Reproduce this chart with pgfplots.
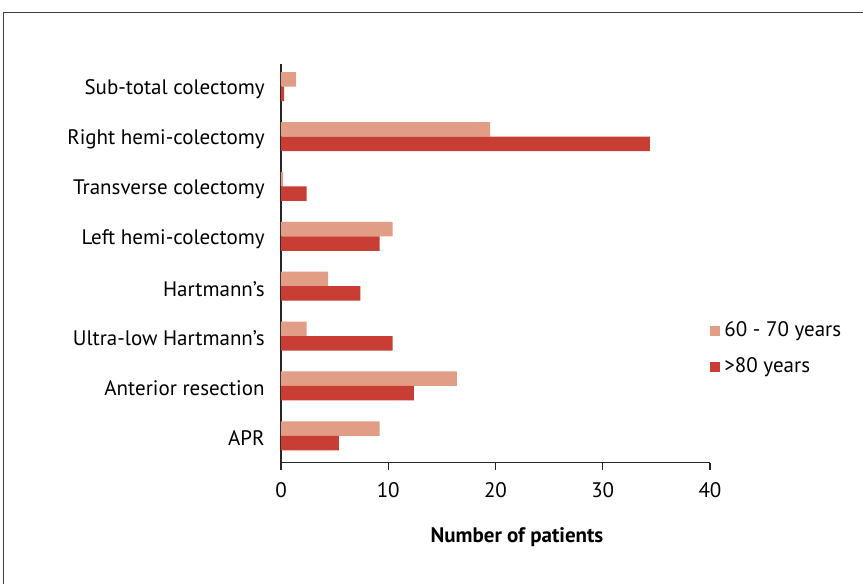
\documentclass[border=0pt]{standalone}
\usepackage{pgfplots}
\pgfplotsset{compat=1.18}
\usepackage{fontspec}
\setmainfont{PT Sans}
\definecolor{cLight}{HTML}{E19D85}
\definecolor{cDark}{HTML}{C93E34}
\begin{document}
\fontsize{10.5}{12.6}\selectfont
\begin{tikzpicture}
\useasboundingbox (0,0) rectangle (431.5pt,292pt);
\draw[black!75, line width=0.6pt] (1.85pt,-1pt) -- (1.85pt,285.65pt) -- (433pt,285.65pt);
\begin{axis}[
  at={(140.5pt,60.65pt)}, anchor=south west,
  scale only axis, width=214.5pt, height=199.5pt,
  xbar, bar width=7.25pt,
  xmin=0, xmax=40, ymin=-0.5, ymax=7.5,
  axis x line*=bottom, axis y line*=left,
  axis line style={line width=0.6pt, black!85},
  xtick={0,10,20,30,40},
  tick align=outside, major tick length=3.5pt,
  x tick style={line width=0.6pt, black!85},
  ytick={0,1,2,3,4,5,6,7},
  yticklabels={APR, Anterior resection, Ultra-low Hartmann’s, Hartmann’s, Left hemi-colectomy, Transverse colectomy, Right hemi-colectomy, Sub-total colectomy},
  y tick style={draw=none},
  /pgf/number format/assume math mode=true,
  tick label style={font=\fontsize{10.5}{12.6}\selectfont},
  yticklabel style={xshift=-1pt, yshift=-0.3pt},
  xticklabel style={yshift=-2.5pt},
  xlabel={\bfseries Number of patients},
  xlabel style={at={(axis description cs:0.55,0)}, anchor=center, yshift=-37pt, font=\fontsize{10.5}{12.6}\selectfont},
  legend style={at={(axis description cs:1,0.286)}, anchor=west, draw=none, fill=none, inner sep=0pt, row sep=5pt, font=\fontsize{10.5}{12.6}\selectfont, cells={anchor=west}},
  legend image code/.code={\fill[#1,draw=none] (0pt,-2.5pt) rectangle (5pt,2.5pt);},
]
\addplot[fill=cLight, draw=none, bar shift=4.6pt] coordinates {(9.2,0) (16.4,1) (2.4,2) (4.4,3) (10.4,4) (0.2,5) (19.5,6) (1.4,7)};
\addplot[fill=cDark, draw=none, bar shift=-2.65pt] coordinates {(5.4,0) (12.4,1) (10.4,2) (7.4,3) (9.2,4) (2.4,5) (34.4,6) (0.3,7)};
\legend{60 - 70 years, >80 years}
\end{axis}
\end{tikzpicture}
\end{document}
